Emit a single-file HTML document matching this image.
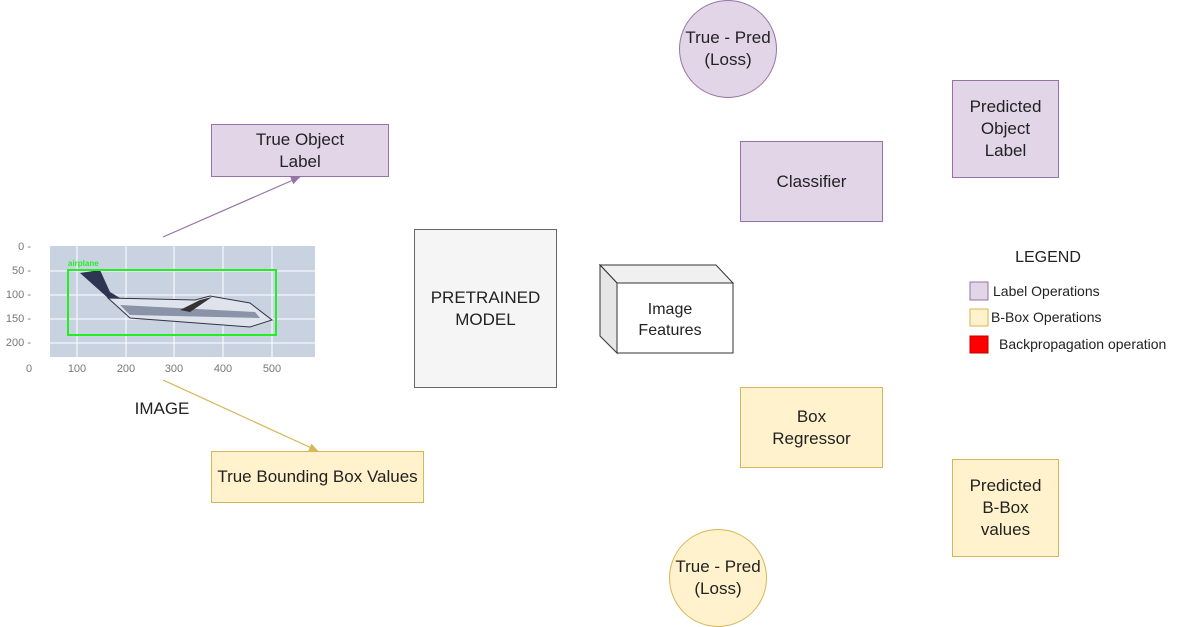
<!DOCTYPE html>
<html><head><style>
body{margin:0;background:#fff;}
#c{position:relative;width:1200px;height:627px;overflow:hidden;font-family:"Liberation Sans",sans-serif;color:#222;}
.b{position:absolute;box-sizing:border-box;display:flex;align-items:center;justify-content:center;text-align:center;font-size:17px;line-height:22px;}
.p{background:#e1d5e7;border:1px solid #9673a6;}
.y{background:#fff2cc;border:1px solid #d6b656;}
</style></head><body><div id="c">
<div class="b p" style="left:679px;top:0;width:98px;height:98px;border-radius:50%;">True - Pred<br>(Loss)</div>
<div class="b y" style="left:669px;top:529px;width:98px;height:98px;border-radius:50%;">True - Pred<br>(Loss)</div>
<div class="b p" style="left:211px;top:124px;width:178px;height:53px;">True Object<br>Label</div>
<div class="b y" style="left:211px;top:451px;width:213px;height:52px;">True Bounding Box Values</div>
<div class="b" style="left:414px;top:229px;width:143px;height:159px;background:#f5f5f5;border:1px solid #666;">PRETRAINED<br>MODEL</div>
<div class="b p" style="left:740px;top:141px;width:143px;height:81px;">Classifier</div>
<div class="b p" style="left:952px;top:80px;width:107px;height:98px;">Predicted<br>Object<br>Label</div>
<div class="b y" style="left:740px;top:387px;width:143px;height:81px;">Box<br>Regressor</div>
<div class="b y" style="left:952px;top:459px;width:107px;height:98px;">Predicted<br>B-Box<br>values</div>
<svg style="position:absolute;left:0;top:0" width="1200" height="627">
<defs>
<marker id="ap" markerWidth="10" markerHeight="10" refX="9" refY="5" orient="auto" markerUnits="userSpaceOnUse"><path d="M0,1 L9,5 L0,9 z" fill="#9673a6"/></marker>
<marker id="ay" markerWidth="10" markerHeight="10" refX="9" refY="5" orient="auto" markerUnits="userSpaceOnUse"><path d="M0,1 L9,5 L0,9 z" fill="#d6b656"/></marker>
</defs>
<line x1="163" y1="237" x2="300" y2="177" stroke="#9673a6" stroke-width="1.2" marker-end="url(#ap)"/>
<line x1="163" y1="380" x2="318" y2="451" stroke="#d6b656" stroke-width="1.2" marker-end="url(#ay)"/>
<polygon points="600,265 716,265 733,283 617,283" fill="#f0f0f0" stroke="#333"/>
<polygon points="600,265 617,283 617,353 600,336" fill="#e6e6e6" stroke="#333"/>
<rect x="617" y="283" width="116" height="70" fill="#fff" stroke="#333"/>
<text x="670" y="314" font-size="16" text-anchor="middle" fill="#222" font-family="Liberation Sans">Image</text>
<text x="670" y="335" font-size="16" text-anchor="middle" fill="#222" font-family="Liberation Sans">Features</text>
<rect x="50" y="246" width="265" height="111" fill="#c9d2e0"/>
<g stroke="#fff" stroke-width="1">
<line x1="77" y1="246" x2="77" y2="357"/><line x1="126" y1="246" x2="126" y2="357"/><line x1="174" y1="246" x2="174" y2="357"/><line x1="223" y1="246" x2="223" y2="357"/><line x1="272" y1="246" x2="272" y2="357"/>
<line x1="50" y1="271" x2="315" y2="271"/><line x1="50" y1="295" x2="315" y2="295"/><line x1="50" y1="319" x2="315" y2="319"/><line x1="50" y1="343" x2="315" y2="343"/>
</g>
<path d="M108,298 L195,300 L210,296 L250,303 L272,320 L250,327 L130,318 Z" fill="#dfe4ec" stroke="#334" stroke-width="1"/>
<path d="M120,305 L255,312 L260,318 L130,315Z" fill="#8a93a8"/>
<path d="M80,273 L100,270 L110,292 L120,298 L108,298 Z" fill="#2d3550"/>
<path d="M180,310 L200,300 L212,297 L190,312Z" fill="#333"/>
<rect x="68" y="270" width="208" height="65" fill="none" stroke="#22ee22" stroke-width="2"/>
<text x="68" y="266" font-size="8" fill="#22ee22" font-weight="bold" font-family="Liberation Sans">airplane</text>
<g font-size="11" fill="#777" font-family="Liberation Sans" text-anchor="end">
<text x="31" y="250">0 -</text><text x="31" y="274">50 -</text><text x="31" y="298">100 -</text><text x="31" y="322">150 -</text><text x="31" y="346">200 -</text>
</g>
<g font-size="11" fill="#777" font-family="Liberation Sans" text-anchor="middle">
<text x="29" y="372">0</text><text x="77" y="372">100</text><text x="126" y="372">200</text><text x="174" y="372">300</text><text x="223" y="372">400</text><text x="272" y="372">500</text>
</g>
<text x="162" y="414" font-size="17" fill="#222" text-anchor="middle" font-family="Liberation Sans">IMAGE</text>
<text x="1048" y="262" font-size="16" fill="#222" text-anchor="middle" font-family="Liberation Sans">LEGEND</text>
<rect x="970" y="282" width="18" height="18" fill="#e1d5e7" stroke="#9673a6"/>
<rect x="970" y="309" width="18" height="17" fill="#fff2cc" stroke="#d6b656"/>
<rect x="970" y="336" width="18" height="17" fill="#f00" stroke="#b00"/>
<g font-size="14" fill="#222" font-family="Liberation Sans">
<text x="993" y="296">Label Operations</text>
<text x="991" y="322">B-Box Operations</text>
<text x="999" y="349">Backpropagation operation</text>
</g>
</svg>
</div></body></html>
